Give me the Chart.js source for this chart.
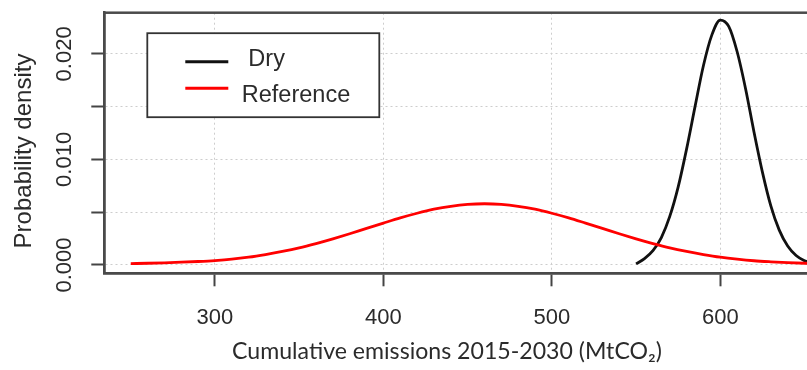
<!DOCTYPE html>
<html>
<head>
<meta charset="utf-8">
<script src="https://cdn.jsdelivr.net/npm/chart.js@4.4.1/dist/chart.umd.min.js"></script>
<style>
  html, body { margin: 0; padding: 0; background: #fff; overflow: hidden; width: 807px; height: 370px; }
  canvas { display: block; }
</style>
</head>
<body>
<canvas id="c" width="820" height="370"></canvas>
<script>
// Emission values (MtCO2) and their probability densities
const dryX = [550, 555, 560, 565, 570, 575, 580, 585, 590, 595, 600, 605, 610, 615, 620, 625, 630, 635, 640, 645, 650, 655];
const dryDensity = [0.0001, 0.0006, 0.00135, 0.0026, 0.0046, 0.0074, 0.0110, 0.0150, 0.0189, 0.0218, 0.0232,
                    0.0226, 0.0202, 0.0167, 0.0126, 0.0088, 0.0056, 0.0033, 0.0018, 0.0009, 0.0004, 0.00015];

const refX = [250, 260, 270, 280, 290, 300, 310, 320, 330, 340, 350, 360, 370, 380, 390, 400, 410, 420, 430, 440, 450,
              460, 470, 480, 490, 500, 510, 520, 530, 540, 550, 560, 570, 580, 590, 600, 610, 620, 630, 640, 650, 660];
const refDensity = [0.00013, 0.00016, 0.0002, 0.00026, 0.00033, 0.00042, 0.00055, 0.00074, 0.00099, 0.00128, 0.00162,
                    0.00203, 0.00248, 0.00296, 0.00347, 0.00397, 0.00446, 0.0049, 0.00528, 0.00556, 0.00574,
                    0.0058, 0.00574, 0.00556, 0.00528, 0.0049, 0.00446, 0.00397, 0.00347, 0.00296, 0.00248,
                    0.00203, 0.00162, 0.00128, 0.00099, 0.00074, 0.00055, 0.0004, 0.0003, 0.00022, 0.00016, 0.00012];

const seriesNames = [' Dry', 'Reference'];
const seriesColors = ['#111111', '#ff0000'];

const xTicks = [300, 400, 500, 600];
const yTicks = [0, 0.005, 0.010, 0.015, 0.020];
const yTickLabels = ['0.000', '', '0.010', '', '0.020'];

const xTitle = 'Cumulative emissions 2015-2030 (MtCO\u2082)';
const yTitle = 'Probability density';

const AXIS_FONT = '"Liberation Sans", Arial, sans-serif';
const TEXT_COLOR = '#2b2b2b';

// Frame, rotated labels, axis titles and the boxed legend
const decorations = {
  id: 'decorations',
  afterDatasetsDraw(chart) {
    const ctx = chart.ctx;
    const a = chart.chartArea;
    ctx.save();
    ctx.strokeStyle = '#4a4a4a';
    ctx.lineWidth = 2.5;
    ctx.strokeRect(a.left, a.top, a.right - a.left, a.bottom - a.top);
    ctx.restore();
  },
  afterDraw(chart) {
    const ctx = chart.ctx;
    const a = chart.chartArea;
    const yScale = chart.scales.y;
    ctx.save();
    ctx.fillStyle = TEXT_COLOR;

    // y tick labels, written bottom-to-top
    ctx.font = '22px ' + AXIS_FONT;
    ctx.textAlign = 'center';
    ctx.textBaseline = 'alphabetic';
    yTicks.forEach((v, i) => {
      if (!yTickLabels[i]) return;
      ctx.save();
      ctx.translate(a.left - 33, yScale.getPixelForValue(v));
      ctx.rotate(-Math.PI / 2);
      ctx.fillText(yTickLabels[i], 0, 0);
      ctx.restore();
    });

    // y axis title
    ctx.save();
    ctx.translate(31, (a.top + a.bottom) / 2 + 8);
    ctx.rotate(-Math.PI / 2);
    ctx.font = '24px ' + AXIS_FONT;
    ctx.fillText(yTitle, 0, 0);
    ctx.restore();

    // x axis title, sized to span 430px
    ctx.font = '20px Lato, "Open Sans", sans-serif';
    const w = ctx.measureText(xTitle).width;
    const size = 20 * 430 / w;
    ctx.font = size.toFixed(2) + 'px Lato, "Open Sans", sans-serif';
    ctx.textAlign = 'center';
    ctx.fillText(xTitle, 447, 359);

    // legend box
    const bx = a.left + 43, by = a.top + 20.5, bw = 232, bh = 84;
    ctx.fillStyle = '#fff';
    ctx.fillRect(bx, by, bw, bh);
    ctx.strokeStyle = '#333';
    ctx.lineWidth = 1.8;
    ctx.strokeRect(bx, by, bw, bh);
    ctx.font = '23.5px ' + AXIS_FONT;
    ctx.textAlign = 'left';
    ctx.textBaseline = 'middle';
    const textShift = [-2, 7];
    chart.data.datasets.forEach((ds, i) => {
      const ly = by + 28.5 + i * 26.6;
      ctx.strokeStyle = ds.borderColor;
      ctx.lineWidth = 3;
      ctx.beginPath();
      ctx.moveTo(bx + 38, ly);
      ctx.lineTo(bx + 81, ly);
      ctx.stroke();
      ctx.fillStyle = TEXT_COLOR;
      ctx.fillText(ds.label, bx + 94.5, ly + textShift[i]);
    });
    ctx.restore();
  }
};

new Chart(document.getElementById('c'), {
  type: 'line',
  data: {
    datasets: [
      {
        label: seriesNames[0],
        data: dryX.map((x, i) => ({ x, y: dryDensity[i] })),
        borderColor: seriesColors[0],
        borderWidth: 2.8,
        pointRadius: 0,
        cubicInterpolationMode: 'monotone',
        fill: false,
        order: 1
      },
      {
        label: seriesNames[1],
        data: refX.map((x, i) => ({ x, y: refDensity[i] })),
        borderColor: seriesColors[1],
        borderWidth: 2.8,
        pointRadius: 0,
        cubicInterpolationMode: 'monotone',
        fill: false,
        order: 0
      }
    ]
  },
  options: {
    responsive: false,
    animation: false,
    devicePixelRatio: 1,
    layout: { padding: { top: 12.7, right: 2, left: 0, bottom: 0 } },
    plugins: { legend: { display: false }, tooltip: { enabled: false } },
    scales: {
      x: {
        type: 'linear',
        min: 234.3,
        max: 658,
        afterBuildTicks: s => { s.ticks = xTicks.map(v => ({ value: v })); },
        afterFit: s => { s.height = 96.7; },
        ticks: {
          color: TEXT_COLOR,
          font: { family: AXIS_FONT, size: 22 },
          padding: 18,
          maxRotation: 0,
          callback: v => String(v)
        },
        grid: {
          color: '#cdcdcd',
          lineWidth: 1,
          drawTicks: true,
          tickLength: 13,
          tickColor: '#444',
          tickWidth: 2
        },
        border: { display: true, color: '#4a4a4a', width: 2.5, dash: [2, 3] }
      },
      y: {
        type: 'linear',
        min: -0.00079,
        max: 0.0239,
        afterBuildTicks: s => { s.ticks = yTicks.map(v => ({ value: v })); },
        afterFit: s => { s.width = 104.3; },
        ticks: { display: false },
        grid: {
          color: '#cdcdcd',
          lineWidth: 1,
          drawTicks: true,
          tickLength: 13,
          tickColor: '#444',
          tickWidth: 2
        },
        border: { display: true, color: '#4a4a4a', width: 2.5, dash: [2, 3] }
      }
    }
  },
  plugins: [decorations]
});
</script>
</body>
</html>
